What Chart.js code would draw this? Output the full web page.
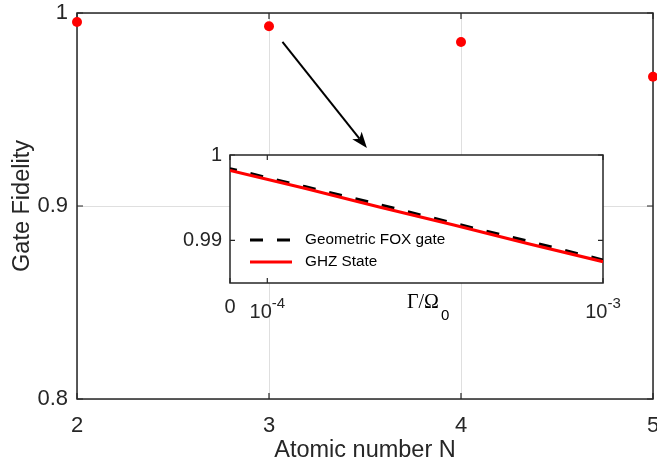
<!DOCTYPE html>
<html>
<head>
<meta charset="utf-8">
<script src="https://cdn.jsdelivr.net/npm/chart.js@4/dist/chart.umd.min.js"></script>
<style>
  html, body { margin: 0; padding: 0; background: #fff; }
  #wrap { position: relative; width: 657px; height: 464px; }
  #wrap canvas { position: absolute; left: 0; top: 0; }
</style>
</head>
<body>
<div id="wrap">
  <canvas id="mainChart" width="657" height="464"></canvas>
  <canvas id="insetChart" width="657" height="464"></canvas>
</div>
<script>
// main plot: gate fidelity against number of atoms
var atomNumbers = [2, 3, 4, 5];
var gateFidelity = [0.9953, 0.9931, 0.985, 0.967];
var mainXTicks = [2, 3, 4, 5];
var mainYTicks = [0.8, 0.9, 1];

// arrow pointing at the inset (main plot data units)
var arrowFrom = [3.07, 0.985];
var arrowTo = [3.51, 0.930];

// inset: fidelity against decay rate
var decayRate = [0, 0.0002, 0.0004, 0.0006, 0.0008, 0.001];
var foxGateFidelity = [0.9984, 0.9963, 0.9942, 0.9920, 0.9899, 0.9877];
var ghzFidelity = [0.9982, 0.9961, 0.9939, 0.9918, 0.9896, 0.9875];
var insetXTicks = [0, 0.0001, 0.001];
var insetXTickBase = ['0', '10', '10'];
var insetXTickExp = ['', '-4', '-3'];
var insetYTicks = [0.99, 1];

var FONT = '"Liberation Sans", Arial, Helvetica, sans-serif';
var SERIF = '"Liberation Serif", "Times New Roman", serif';
var AXIS_COLOR = '#262626';

function setTicks(values) {
    return function(scale) {
        scale.ticks = values.map(function(v) { return { value: v }; });
    };
}

function fixSize(prop, size) {
    return function(scale) {
        scale[prop] = size;
        scale.paddingLeft = 0;
        scale.paddingRight = 0;
        scale.paddingTop = 0;
        scale.paddingBottom = 0;
    };
}

function toPoints(xs, ys) {
    return xs.map(function(x, i) { return { x: x, y: ys[i] }; });
}

// matlab style box with inward ticks on all four sides
var boxPlugin = {
    id: 'matlabBox',
    beforeDatasetsDraw: function(chart) {
        var ctx = chart.ctx, a = chart.chartArea;
        var xs = chart.scales.x, ys = chart.scales.y;
        var tick = chart.options.tickMarkLength || 6;
        ctx.save();
        ctx.strokeStyle = AXIS_COLOR;
        ctx.lineWidth = 1.5;
        ctx.strokeRect(a.left, a.top, a.right - a.left, a.bottom - a.top);
        ctx.lineWidth = 1.2;
        ctx.beginPath();
        xs.ticks.forEach(function(t) {
            var p = xs.getPixelForValue(t.value);
            ctx.moveTo(p, a.bottom); ctx.lineTo(p, a.bottom - tick);
            ctx.moveTo(p, a.top); ctx.lineTo(p, a.top + tick);
        });
        ys.ticks.forEach(function(t) {
            var p = ys.getPixelForValue(t.value);
            ctx.moveTo(a.left, p); ctx.lineTo(a.left + tick, p);
            ctx.moveTo(a.right, p); ctx.lineTo(a.right - tick, p);
        });
        ctx.stroke();
        ctx.restore();
    }
};

var arrowPlugin = {
    id: 'arrow',
    afterDatasetsDraw: function(chart) {
        var ctx = chart.ctx, xs = chart.scales.x, ys = chart.scales.y;
        var x0 = xs.getPixelForValue(arrowFrom[0]), y0 = ys.getPixelForValue(arrowFrom[1]);
        var x1 = xs.getPixelForValue(arrowTo[0]), y1 = ys.getPixelForValue(arrowTo[1]);
        var ang = Math.atan2(y1 - y0, x1 - x0);
        var len = 16, half = 6, back = 12;
        ctx.save();
        ctx.strokeStyle = '#000';
        ctx.fillStyle = '#000';
        ctx.lineWidth = 2;
        ctx.beginPath();
        ctx.moveTo(x0, y0);
        ctx.lineTo(x1 - back * Math.cos(ang), y1 - back * Math.sin(ang));
        ctx.stroke();
        ctx.translate(x1, y1);
        ctx.rotate(ang);
        ctx.beginPath();
        ctx.moveTo(0, 0);
        ctx.lineTo(-len, -half);
        ctx.lineTo(-back, 0);
        ctx.lineTo(-len, half);
        ctx.closePath();
        ctx.fill();
        ctx.restore();
    }
};

var insetBg = {
    id: 'insetBg',
    beforeDraw: function(chart) {
        var a = chart.chartArea, ctx = chart.ctx;
        ctx.save();
        ctx.fillStyle = '#fff';
        ctx.fillRect(a.left, a.top, a.right - a.left, a.bottom - a.top);
        ctx.restore();
    }
};

// inset tick labels with exponents, legend and x label
var insetDecor = {
    id: 'insetDecor',
    afterDraw: function(chart) {
        var ctx = chart.ctx, a = chart.chartArea, xs = chart.scales.x;
        ctx.save();
        ctx.fillStyle = AXIS_COLOR;
        ctx.textBaseline = 'alphabetic';
        ctx.textAlign = 'left';
        insetXTicks.forEach(function(v, i) {
            var p = xs.getPixelForValue(v);
            var base = insetXTickBase[i], exp = insetXTickExp[i];
            ctx.font = '20px ' + FONT;
            var wb = ctx.measureText(base).width;
            ctx.font = '15px ' + FONT;
            var we = exp ? ctx.measureText(exp).width : 0;
            var x = p - (wb + we) / 2;
            ctx.font = '20px ' + FONT;
            ctx.fillText(base, x, a.bottom + (exp ? 35 : 30));
            if (exp) {
                ctx.font = '15px ' + FONT;
                ctx.fillText(exp, x + wb, a.bottom + 25);
            }
        });

        // x label: Gamma / Omega_0
        ctx.fillStyle = '#000';
        ctx.font = '20px ' + SERIF;
        var lx = a.left + 177, ly = a.bottom + 25;
        ctx.fillText('\u0393/\u03A9', lx, ly);
        var w = ctx.measureText('\u0393/\u03A9').width;
        ctx.font = '15px ' + FONT;
        ctx.fillText('0', lx + w + 2, ly + 12);

        // legend
        var rows = [a.top + 85, a.top + 107];
        chart.data.datasets.forEach(function(d, i) {
            var y = rows[i];
            ctx.strokeStyle = d.borderColor;
            ctx.lineWidth = d.borderWidth;
            ctx.setLineDash(d.borderDash || []);
            ctx.beginPath();
            ctx.moveTo(a.left + 20, y);
            ctx.lineTo(a.left + 62, y);
            ctx.stroke();
            ctx.setLineDash([]);
            ctx.fillStyle = '#000';
            ctx.font = '15.3px ' + FONT;
            ctx.textBaseline = 'middle';
            ctx.fillText(d.label, a.left + 75, y);
        });
        ctx.restore();
    }
};

new Chart(document.getElementById('mainChart'), {
    type: 'scatter',
    data: {
        datasets: [{
            label: 'Gate Fidelity',
            data: toPoints(atomNumbers, gateFidelity),
            backgroundColor: '#ff0000',
            borderColor: '#ff0000',
            pointRadius: 5,
            borderWidth: 0,
            clip: false
        }]
    },
    options: {
        responsive: false,
        animation: false,
        events: [],
        tickMarkLength: 6,
        layout: { padding: { left: 0, top: 13, right: 4, bottom: 0 }, autoPadding: false },
        plugins: { legend: { display: false }, tooltip: { enabled: false } },
        scales: {
            x: {
                type: 'linear',
                min: 2,
                max: 5,
                afterBuildTicks: setTicks(mainXTicks),
                afterFit: fixSize('height', 65),
                grid: { color: '#dfdfdf', lineWidth: 1, drawTicks: false },
                border: { display: false },
                ticks: {
                    font: { family: FONT, size: 22 },
                    color: AXIS_COLOR,
                    padding: 14,
                    maxRotation: 0,
                    callback: function(v) { return String(v); }
                },
                title: {
                    display: true,
                    text: 'Atomic number N',
                    font: { family: FONT, size: 23.5 },
                    color: AXIS_COLOR,
                    padding: { top: 0, bottom: -1 }
                }
            },
            y: {
                min: 0.8,
                max: 1,
                afterBuildTicks: setTicks(mainYTicks),
                afterFit: fixSize('width', 77),
                grid: { color: '#dfdfdf', lineWidth: 1, drawTicks: false },
                border: { display: false },
                ticks: {
                    font: { family: FONT, size: 22 },
                    color: AXIS_COLOR,
                    padding: 9,
                    callback: function(v) { return String(v); }
                },
                title: {
                    display: true,
                    text: 'Gate Fidelity',
                    font: { family: FONT, size: 23.5 },
                    color: AXIS_COLOR,
                    padding: { top: 8, bottom: 0 }
                }
            }
        }
    },
    plugins: [boxPlugin, arrowPlugin]
});

new Chart(document.getElementById('insetChart'), {
    type: 'scatter',
    data: {
        datasets: [{
            label: 'Geometric FOX gate',
            data: toPoints(decayRate, foxGateFidelity),
            showLine: true,
            borderColor: '#000000',
            borderWidth: 3,
            borderDash: [13, 14],
            borderDashOffset: 6,
            pointRadius: 0,
            order: 1
        }, {
            label: 'GHZ State',
            data: toPoints(decayRate, ghzFidelity),
            showLine: true,
            borderColor: '#ff0000',
            borderWidth: 3,
            pointRadius: 0,
            order: 0
        }]
    },
    options: {
        responsive: false,
        animation: false,
        events: [],
        tickMarkLength: 5,
        layout: { padding: { left: 0, top: 155, right: 54, bottom: 0 }, autoPadding: false },
        plugins: { legend: { display: false }, tooltip: { enabled: false } },
        scales: {
            x: {
                type: 'linear',
                min: 0,
                max: 0.001,
                afterBuildTicks: setTicks(insetXTicks),
                afterFit: fixSize('height', 181),
                grid: { display: false, drawTicks: false },
                border: { display: false },
                ticks: { display: false }
            },
            y: {
                min: 0.985,
                max: 1,
                afterBuildTicks: setTicks(insetYTicks),
                afterFit: fixSize('width', 230),
                grid: { display: false, drawTicks: false },
                border: { display: false },
                ticks: {
                    font: { family: FONT, size: 20 },
                    color: AXIS_COLOR,
                    padding: 8,
                    callback: function(v) { return String(v); }
                }
            }
        }
    },
    plugins: [insetBg, boxPlugin, insetDecor]
});
</script>
</body>
</html>
